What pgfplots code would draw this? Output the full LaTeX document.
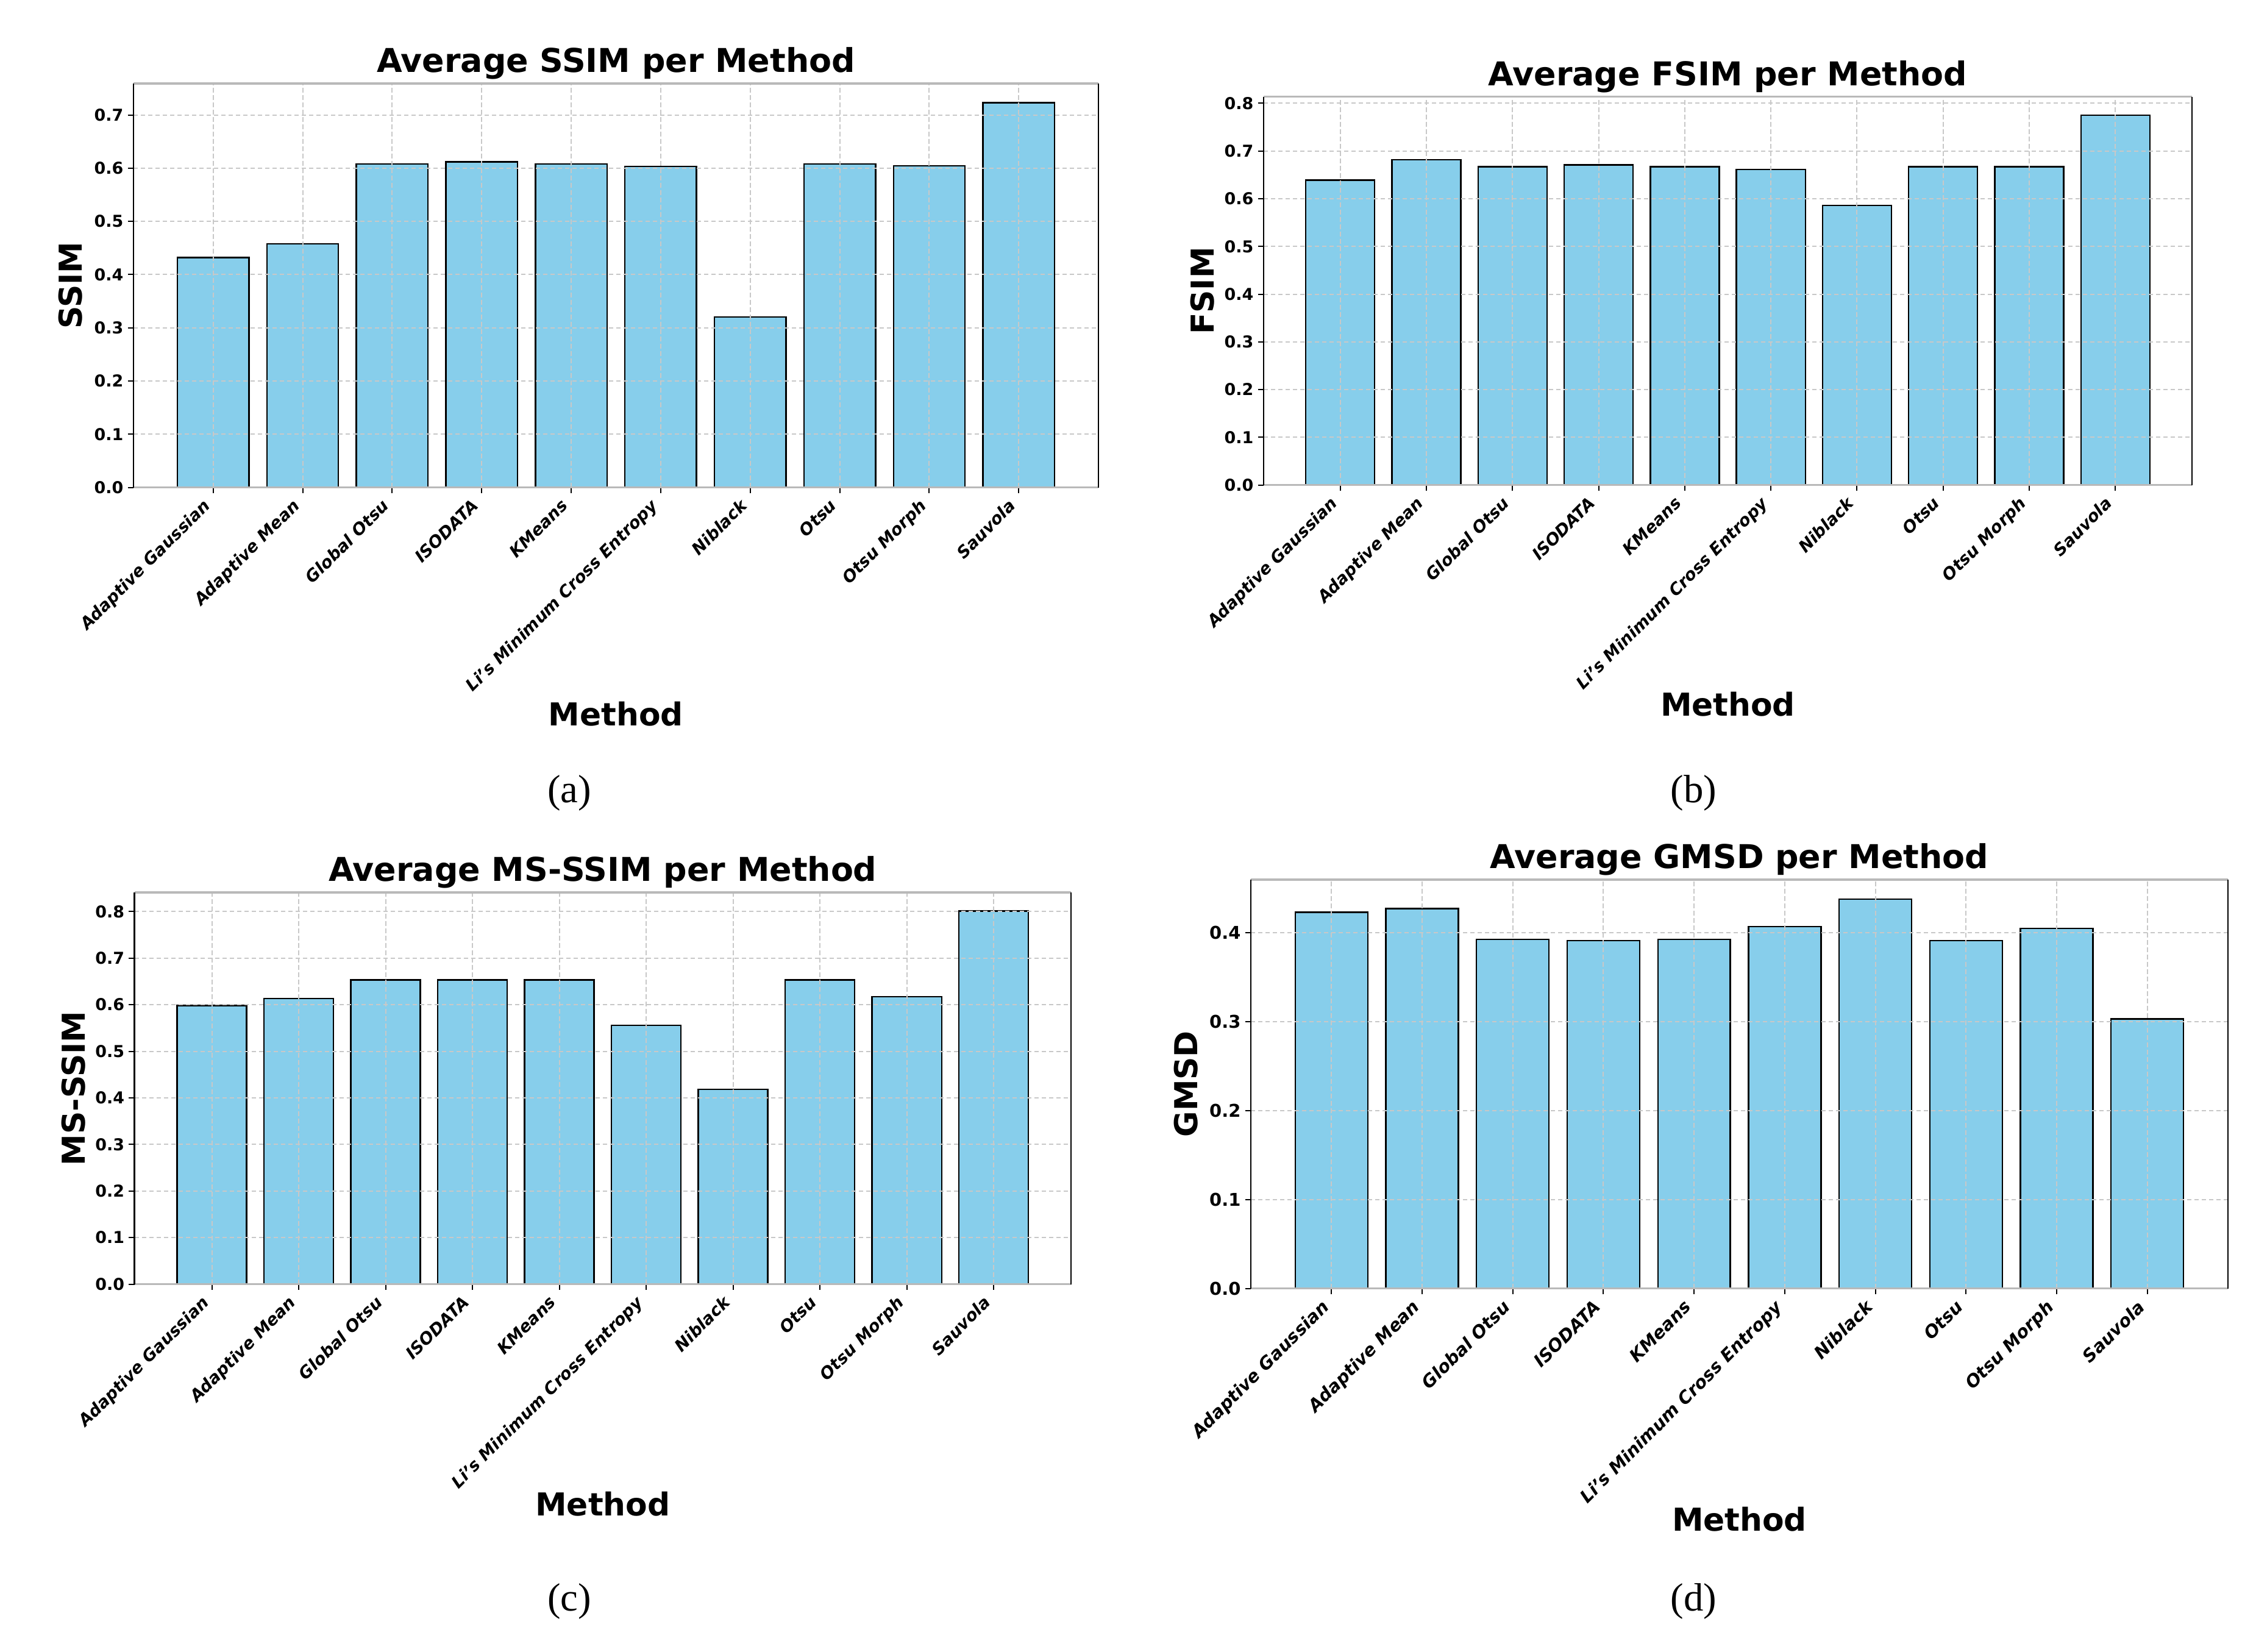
\documentclass[border=0pt]{standalone}
\usepackage{fontspec}
\setmainfont{DejaVu Sans}
\newfontfamily\capfont{Liberation Serif}
\usepackage{pgfplots}
\pgfplotsset{compat=1.18}

\definecolor{skyblue}{HTML}{87CEEB}
\definecolor{gridgray}{HTML}{C8C8C8}

\pgfplotsset{
  methodbars/.style={
    scale only axis,
    anchor=south west,
    ybar, bar width=0.8,
    xmin=-0.89, xmax=9.89, ymin=0,
    xtick={0,...,9},
    xticklabels={Adaptive Gaussian, Adaptive Mean, Global Otsu, ISODATA, KMeans,
      Li's Minimum Cross Entropy, Niblack, Otsu, Otsu Morph, Sauvola},
    ytick distance=0.1,
    yticklabel={\pgfmathprintnumber[fixed,fixed zerofill,precision=1,assume math mode=true]{\tick}},
    xticklabel style={font=\fontsize{8.25}{9.8}\selectfont\bfseries\itshape, xshift=-5.5bp, rotate=45, anchor=north east, inner sep=1.5bp},
    yticklabel style={font=\fontsize{8.1}{9.6}\selectfont\bfseries, inner sep=2bp},
    grid=major,
    major grid style={gridgray, line width=0.6bp, dash pattern=on 2.2bp off 1.4bp},
    axis on top,
    tick align=outside, xtick pos=bottom, ytick pos=left,
    major tick length=2.8bp,
    tick style={black, line width=0.6bp},
    separate axis lines,
    x axis line style={draw=gray!55, line width=1bp},
    y axis line style={draw=black, line width=0.8bp},
    every axis title shift=0pt,
    title style={font=\fontsize{16.2}{19}\selectfont\bfseries, at={(axis description cs:0.5,1)}, anchor=base, yshift=5.5bp},
    xlabel style={font=\fontsize{15.6}{18}\selectfont\bfseries, anchor=center},
    ylabel style={font=\fontsize{15.6}{18}\selectfont\bfseries, anchor=center},
    xlabel={Method},
  },
  barstyle/.style={fill=skyblue, draw=black, line width=0.7bp},
}

\begin{document}
\begin{tikzpicture}
\path (0,0) rectangle (1110.3bp,-813bp);

% (a) SSIM
\begin{axis}[methodbars, at={(65.7bp,-239.85bp)}, width=474.9bp, height=198.75bp,
  ymax=0.759, title={Average SSIM per Method}, ylabel={SSIM},
  xlabel style={at={(axis description cs:0.5,-0.561)}},
  ylabel style={at={(axis description cs:-0.065,0.5)}}]
\addplot[barstyle] coordinates {
  (0,0.432) (1,0.458) (2,0.608) (3,0.612) (4,0.608)
  (5,0.603) (6,0.320) (7,0.608) (8,0.604) (9,0.723)};
\end{axis}

% (b) FSIM
\begin{axis}[methodbars, at={(621.9bp,-238.7bp)}, width=456.9bp, height=191.1bp,
  ymax=0.8137, title={Average FSIM per Method}, ylabel={FSIM},
  xlabel style={at={(axis description cs:0.5,-0.565)}},
  ylabel style={at={(axis description cs:-0.066,0.5)}}]
\addplot[barstyle] coordinates {
  (0,0.639) (1,0.682) (2,0.667) (3,0.671) (4,0.667)
  (5,0.661) (6,0.586) (7,0.667) (8,0.667) (9,0.775)};
\end{axis}

% (c) MS-SSIM
\begin{axis}[methodbars, at={(66.2bp,-631.95bp)}, width=460.9bp, height=192.75bp,
  ymax=0.841, title={Average MS-SSIM per Method}, ylabel={MS-SSIM},
  xlabel style={at={(axis description cs:0.5,-0.562)}},
  ylabel style={at={(axis description cs:-0.065,0.5)}}]
\addplot[barstyle] coordinates {
  (0,0.598) (1,0.613) (2,0.653) (3,0.653) (4,0.653)
  (5,0.556) (6,0.418) (7,0.653) (8,0.617) (9,0.801)};
\end{axis}

% (d) GMSD, set a little larger in the reference
\begin{axis}[methodbars, at={(615.6bp,-634.05bp)}, width=480.9bp, height=201.15bp,
  ymax=0.4596, title={Average GMSD per Method}, ylabel={GMSD},
  xticklabel style={font=\fontsize{8.7}{10.4}\selectfont\bfseries\itshape},
  yticklabel style={font=\fontsize{8.7}{10.4}\selectfont\bfseries},
  xlabel style={at={(axis description cs:0.5,-0.565)}},
  ylabel style={at={(axis description cs:-0.0665,0.5)}}]
\addplot[barstyle] coordinates {
  (0,0.423) (1,0.427) (2,0.3925) (3,0.391) (4,0.3925)
  (5,0.407) (6,0.4377) (7,0.391) (8,0.405) (9,0.303)};
\end{axis}

\node[font=\capfont\fontsize{19.5}{22}\selectfont] at (280.2bp,-390.3bp) {(a)};
\node[font=\capfont\fontsize{19.5}{22}\selectfont] at (833.5bp,-390.3bp) {(b)};
\node[font=\capfont\fontsize{19.5}{22}\selectfont] at (280.2bp,-788.1bp) {(c)};
\node[font=\capfont\fontsize{19.5}{22}\selectfont] at (833.5bp,-788.1bp) {(d)};
\end{tikzpicture}
\end{document}
